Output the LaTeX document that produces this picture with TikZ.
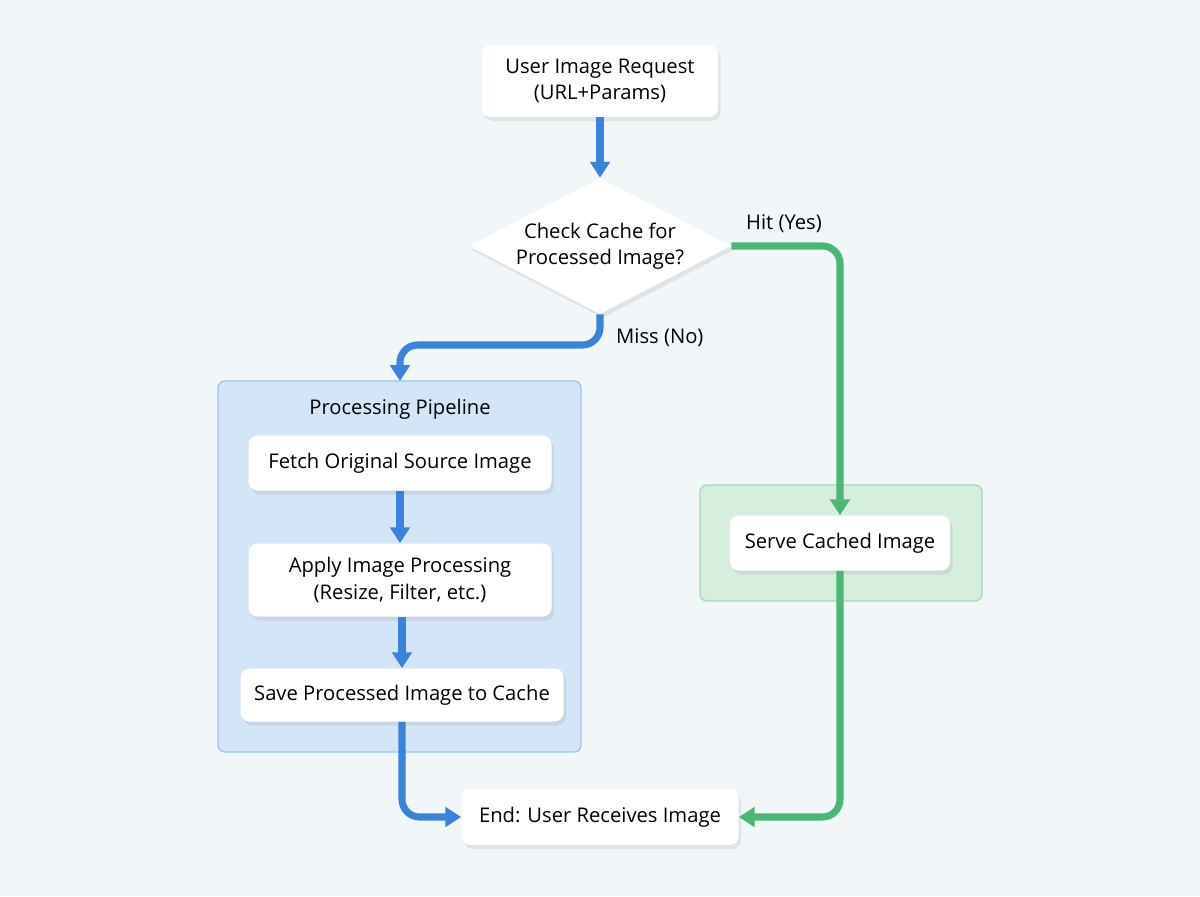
\documentclass[tikz,border=0pt]{standalone}
\usepackage{fontspec}
\setmainfont{Open Sans}
\usetikzlibrary{arrows.meta, shapes.geometric, shadows}

\definecolor{bgcol}{HTML}{F1F6F9}
\definecolor{flowblue}{HTML}{3B82DB}
\definecolor{flowgreen}{HTML}{4CB772}
\definecolor{pipefill}{HTML}{D3E6F8}
\definecolor{pipeline}{HTML}{9CC6EE}
\definecolor{cachefill}{HTML}{D5EEDD}
\definecolor{cacheline}{HTML}{A6D9B6}

\begin{document}
\begin{tikzpicture}[
        x = 0.02cm, y = -0.02cm,
        > = {Triangle[length=9pt, width=11pt]},
        font = \fontsize{11.5}{15}\selectfont,
        box/.style = {draw = none, fill = white, rounded corners = 5pt,
            align = center, inner sep = 0pt,
            drop shadow = {opacity = 0.15, shadow xshift = 0.5mm, shadow yshift = -0.8mm}},
        decision/.style = {diamond, draw = none, fill = white, aspect = 1.93,
            align = center, inner sep = 0pt,
            drop shadow = {opacity = 0.15, shadow xshift = 0.5mm, shadow yshift = -0.8mm}},
        group/.style = {draw, rounded corners = 4pt, line width = 0.8pt},
        blueflow/.style = {->, flowblue, line width = 4pt, rounded corners = 10pt},
        greenflow/.style = {->, flowgreen, line width = 4pt, rounded corners = 10pt}
    ]

    % background
    \fill[bgcol] (0,0) rectangle (1200,896);
    \useasboundingbox (0,0) rectangle (1200,896);

    % containers
    \draw[group, fill = pipefill, draw = pipeline] (218,381) rectangle (581,752);
    \draw[group, fill = cachefill, draw = cacheline] (700,485) rectangle (982,601);
    \node (pipetitle) at (400,409) {Processing Pipeline};

    % nodes
    \node[box, minimum width = 236*0.02cm, minimum height = 72*0.02cm] (request) at (600,81)
        {User Image Request\\(URL+Params)};
    \node[decision, minimum width = 262*0.02cm, minimum height = 136*0.02cm] (cache) at (600,246)
        {Check Cache for\\Processed Image?};
    \node[box, minimum width = 303*0.02cm, minimum height = 55*0.02cm] (fetch) at (400,463)
        {Fetch Original Source Image};
    \node[box, minimum width = 303*0.02cm, minimum height = 73*0.02cm] (apply) at (400,580)
        {Apply Image Processing\\(Resize, Filter, etc.)};
    \node[box, minimum width = 323*0.02cm, minimum height = 53*0.02cm] (save) at (402,695)
        {Save Processed Image to Cache};
    \node[box, minimum width = 220*0.02cm, minimum height = 55*0.02cm] (serve) at (840,543)
        {Serve Cached Image};
    \node[box, minimum width = 277*0.02cm, minimum height = 56*0.02cm] (finish) at (600,817)
        {End: User Receives Image};
    \coordinate (pipein) at (400,381);

    % connectors
    \draw[blueflow] (request) -- (cache);
    \draw[blueflow] (cache.south) |- (500,345) -| (pipein);
    \node[anchor = west] (misslabel) at (610,338) {Miss (No)};
    \draw[blueflow] (fetch) -- (apply);
    \draw[blueflow] (apply.south -| save) -- (save);
    \draw[blueflow] (save.south) |- (finish.west);
    \draw[greenflow] (cache.east) -| (serve.north);
    \node[anchor = west] (hitlabel) at (740,224) {Hit (Yes)};
    \draw[greenflow] (serve.south) |- (finish.east);

\end{tikzpicture}
\end{document}
